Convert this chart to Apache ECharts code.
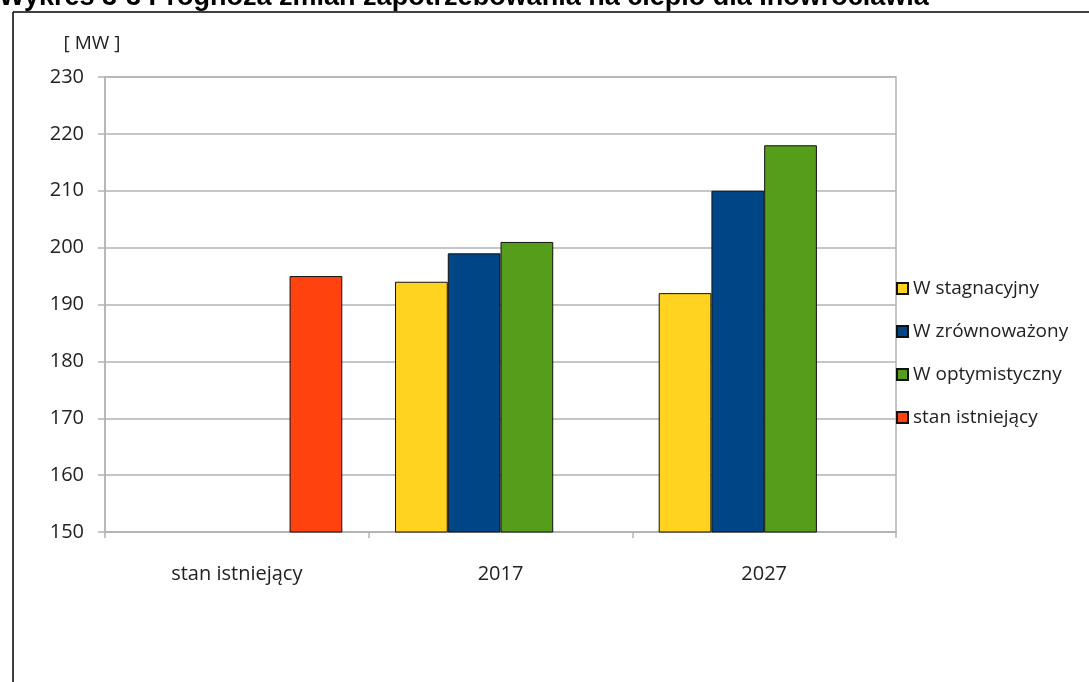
<!DOCTYPE html>
<html>
<head>
<meta charset="utf-8">
<script src="https://cdn.jsdelivr.net/npm/echarts@6/dist/echarts.min.js"></script>
<style>
  html, body { margin: 0; padding: 0; background: #fff; }
  #chart { width: 1089px; height: 682px; }
</style>
</head>
<body>
<div id="chart"></div>
<script>
// Heat demand forecast for Inowrocław [MW]
const categories = ['stan istniejący', '2017', '2027'];
const seriesNames = ['W stagnacyjny', 'W zrównoważony', 'W optymistyczny', 'stan istniejący'];
const stagnacyjny   = [null, 194, 192];
const zrownowazony  = [null, 199, 210];
const optymistyczny = [null, 201, 218];
const istniejacy    = [195, null, null];
const colors = ['#ffd320', '#004586', '#579d1c', '#ff420e'];

const labelFont = '"Open Sans", sans-serif';
const gridGray = '#b3b3b3';

const seriesData = [stagnacyjny, zrownowazony, optymistyczny, istniejacy];

const chart = echarts.init(document.getElementById('chart'), null, { renderer: 'canvas' });
chart.setOption({
  animation: false,
  backgroundColor: '#fff',
  title: {
    text: 'Wykres 3-3 Prognoza zmian zapotrzebowania na ciepło dla Inowrocławia',
    left: -1,
    top: -16,
    padding: 0,
    textStyle: { fontFamily: '"Liberation Sans", Arial, sans-serif', fontWeight: 'bold', fontSize: 27, color: '#000' }
  },
  graphic: [
    { type: 'line', shape: { x1: 13, y1: 12, x2: 1089, y2: 12 }, style: { stroke: '#000', lineWidth: 1.5 } },
    { type: 'line', shape: { x1: 13, y1: 12, x2: 13, y2: 682 }, style: { stroke: '#000', lineWidth: 1.5 } }
  ],
  legend: {
    orient: 'vertical',
    left: 891,
    top: 274,
    itemWidth: 11,
    itemHeight: 11,
    itemGap: 24,
    icon: 'rect',
    data: seriesNames,
    textStyle: { fontFamily: labelFont, fontSize: 19, color: '#222' }
  },
  grid: {
    left: 105, right: 193, top: 77, bottom: 150,
    show: true, borderColor: gridGray, borderWidth: 1.5, backgroundColor: 'transparent'
  },
  xAxis: {
    type: 'category',
    data: categories,
    axisLine: { lineStyle: { color: gridGray, width: 2 } },
    axisTick: { show: true, length: 6, lineStyle: { color: gridGray, width: 1.5 } },
    axisLabel: { fontFamily: labelFont, fontSize: 20, color: '#222', margin: 32 }
  },
  yAxis: {
    type: 'value',
    min: 150, max: 230, interval: 10,
    name: '[ MW ]',
    nameLocation: 'end',
    nameGap: 24,
    nameTextStyle: { fontFamily: labelFont, fontSize: 19, color: '#222', padding: [0, 26, 0, 0] },
    axisLine: { show: true, lineStyle: { color: gridGray, width: 1.5 } },
    axisTick: { show: true, length: 7, lineStyle: { color: gridGray, width: 1.5 } },
    axisLabel: { fontFamily: labelFont, fontSize: 20, color: '#222', margin: 21 },
    splitLine: { lineStyle: { color: gridGray, width: 1.5 } }
  },
  series: seriesNames.map((name, i) => ({
    name,
    type: 'bar',
    data: seriesData[i],
    barGap: '0%',
    barCategoryGap: '20%',
    itemStyle: { color: colors[i], borderColor: '#111', borderWidth: 1 }
  }))
});
</script>
</body>
</html>
